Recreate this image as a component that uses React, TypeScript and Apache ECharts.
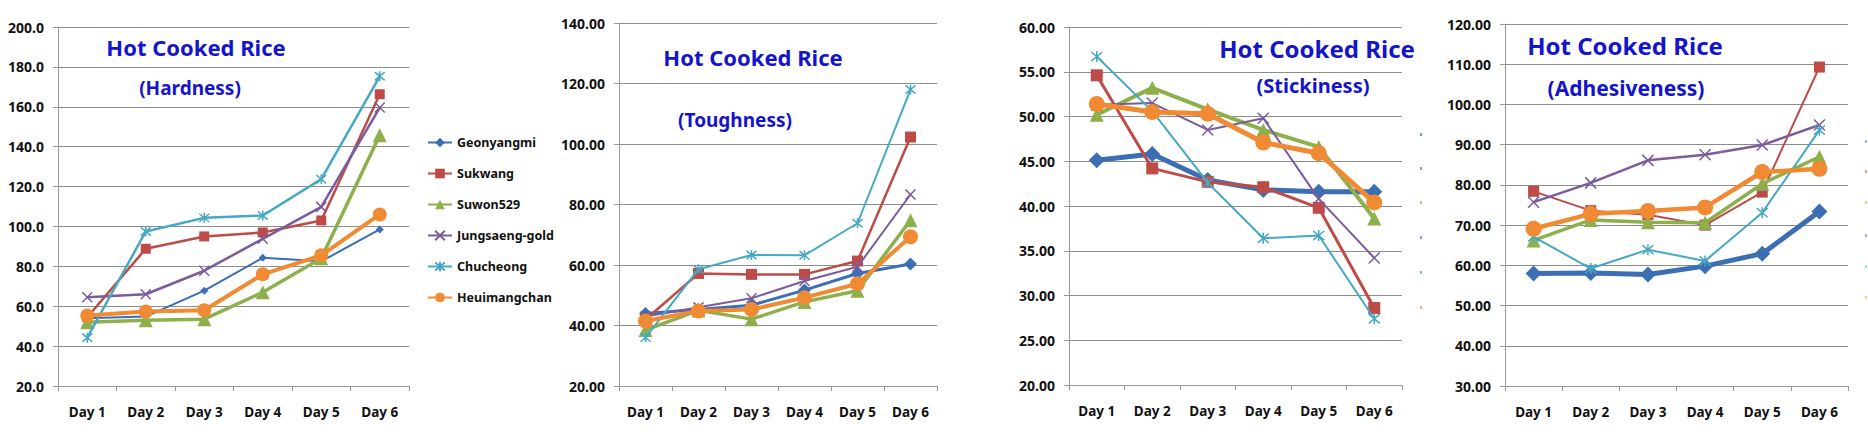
import React, { useEffect, useRef } from "react";
import * as echarts from "echarts";

const days = ["Day 1", "Day 2", "Day 3", "Day 4", "Day 5", "Day 6"];
const varieties = ["Geonyangmi", "Sukwang", "Suwon529", "Jungsaeng-gold", "Chucheong", "Heuimangchan"];

const hardGeon = [54.0, 54.8, 67.8, 84.3, 82.5, 98.5];
const hardSuk = [54.5, 88.8, 95.0, 97.0, 103.0, 166.3];
const hardSuwon = [52.0, 53.0, 53.5, 67.0, 84.0, 145.7];
const hardJung = [64.5, 66.0, 77.8, 93.8, 109.8, 159.6];
const hardChu = [44.2, 97.5, 104.3, 105.5, 123.7, 175.3];
const hardHeu = [55.3, 57.3, 58.0, 76.0, 85.5, 106.0];

const toughGeon = [44.0, 45.3, 46.7, 51.7, 57.2, 60.3];
const toughSuk = [42.0, 57.2, 56.9, 56.9, 61.3, 102.3];
const toughSuwon = [38.5, 45.0, 42.1, 47.8, 51.5, 74.8];
const toughJung = [43.0, 46.0, 49.0, 54.7, 59.4, 83.3];
const toughChu = [36.0, 58.6, 63.3, 63.2, 73.8, 118.0];
const toughHeu = [41.5, 44.8, 45.3, 49.2, 53.8, 69.3];

const stickGeon = [45.1, 45.8, 42.9, 41.8, 41.6, 41.6];
const stickSuk = [54.6, 44.2, 42.7, 42.1, 39.8, 28.6];
const stickSuwon = [50.2, 53.2, 50.8, 48.5, 46.6, 38.6];
const stickJung = [51.3, 51.5, 48.5, 49.8, 40.8, 34.2];
const stickChu = [56.7, 50.6, 42.6, 36.4, 36.7, 27.4];
const stickHeu = [51.4, 50.5, 50.3, 47.1, 45.9, 40.4];

const adhGeon = [58.0, 58.1, 57.7, 59.8, 62.9, 73.4];
const adhSuk = [78.4, 73.6, 72.6, 70.0, 78.2, 109.3];
const adhSuwon = [66.2, 71.3, 70.7, 70.6, 80.3, 87.0];
const adhJung = [75.7, 80.5, 86.1, 87.5, 89.9, 94.9];
const adhChu = [67.1, 59.2, 63.9, 61.1, 73.1, 93.6];
const adhHeu = [69.1, 72.8, 73.5, 74.4, 83.2, 84.0];

const panelData = [
  [hardGeon, hardSuk, hardSuwon, hardJung, hardChu, hardHeu],
  [toughGeon, toughSuk, toughSuwon, toughJung, toughChu, toughHeu],
  [stickGeon, stickSuk, stickSuwon, stickJung, stickChu, stickHeu],
  [adhGeon, adhSuk, adhSuwon, adhJung, adhChu, adhHeu],
];

const subtitles = ["(Hardness)", "(Toughness)", "(Stickiness)", "(Adhesiveness)"];
const yMins = [20, 20, 20, 30];
const yMaxs = [200, 140, 60, 120];
const yIntervals = [20, 20, 5, 10];
const yDecimals = [1, 2, 2, 2];

const colors = ["#3C6EB4", "#BE4B48", "#8DB04C", "#7A5C9C", "#46A8C2", "#F08A33"];
const crossPath = "path://M0,0L10,10M10,0L0,10";
const starPath = "path://M0,0L10,10M10,0L0,10M5,-1L5,11";
const symbols = ["diamond", "rect", "triangle", crossPath, starPath, "circle"];

// layout (pixels)
const grids = [
  { left: 58, top: 27, width: 351, height: 359 },
  { left: 619, top: 23, width: 318, height: 363 },
  { left: 1069, top: 27, width: 333, height: 358 },
  { left: 1505, top: 24, width: 343, height: 362 },
];
const lineWidths = [
  [2, 2.5, 3.5, 2.5, 2.5, 4],
  [3, 2.5, 3.5, 2, 2, 4],
  [5, 3, 4, 2, 2, 5],
  [5, 2, 3.5, 2.5, 2, 4.5],
];
const symbolSizes = [
  [8, 10, 14, 10, 10, 14],
  [13, 11, 14, 10, 10, 15],
  [16, 12, 14, 11, 11, 16],
  [16, 11, 14, 11, 11, 16],
];
const titlePos = [
  { x: 196, y: 47, sx: 190, sy: 88, size: 22, ssize: 19 },
  { x: 753, y: 57, sx: 735, sy: 120, size: 22, ssize: 19 },
  { x: 1317, y: 48, sx: 1313, sy: 85, size: 24, ssize: 20 },
  { x: 1625, y: 45, sx: 1626, sy: 88, size: 24, ssize: 21 },
];

export default function App() {
  const ref = useRef<HTMLDivElement>(null);
  useEffect(() => {
    document.body.style.margin = "0";
    const chart = echarts.init(ref.current!, null, { renderer: "svg" });
    const font = "'Noto Sans', 'Open Sans', sans-serif";
    const series: any[] = [];
    panelData.forEach((panel, p) => {
      panel.forEach((vals, i) => {
        const isStroke = i === 3 || i === 4;
        series.push({
          name: varieties[i],
          type: "line",
          xAxisIndex: p,
          yAxisIndex: p,
          data: vals,
          symbol: symbols[i],
          symbolSize: symbolSizes[p][i],
          showAllSymbol: true,
          lineStyle: { color: colors[i], width: lineWidths[p][i] },
          itemStyle: isStroke
            ? { color: "rgba(0,0,0,0)", borderColor: colors[i], borderWidth: 1.5 }
            : { color: colors[i], borderColor: colors[i], borderWidth: 0 },
          z: 2 + i,
        });
      });
    });

    const graphics: any[] = [];
    titlePos.forEach((t, p) => {
      graphics.push({
        type: "text",
        x: t.x,
        y: t.y,
        style: {
          text: "Hot Cooked Rice",
          fill: "#1414CC",
          font: `bold ${t.size}px ${font}`,
          textAlign: "center",
          textVerticalAlign: "middle",
        },
        z: 10,
      });
      graphics.push({
        type: "text",
        x: t.sx,
        y: t.sy,
        style: {
          text: subtitles[p],
          fill: "#1414CC",
          font: `bold ${t.ssize}px ${font}`,
          textAlign: "center",
          textVerticalAlign: "middle",
        },
        z: 10,
      });
    });
    // remnants of cropped legends at the panel edges
    const remnantYs3 = [135, 169, 203, 238, 273, 308];
    const remnantYs4 = [142, 172, 203, 236, 267, 298];
    remnantYs3.forEach((y, i) =>
      graphics.push({ type: "rect", shape: { x: 1420, y: y - 2, width: 2, height: 3 }, style: { fill: colors[i], opacity: 0.7 } })
    );
    remnantYs4.forEach((y, i) =>
      graphics.push({ type: "rect", shape: { x: 1865, y: y - 2, width: 2, height: 3 }, style: { fill: colors[i], opacity: 0.5 } })
    );

    chart.setOption({
      animation: false,
      backgroundColor: "#ffffff",
      grid: grids.map((g) => ({ ...g, containLabel: false })),
      legend: {
        orient: "vertical",
        left: 422,
        top: 131,
        itemWidth: 24,
        itemHeight: 12,
        itemGap: 18,
        data: varieties,
        textStyle: { fontFamily: font, fontWeight: "bold", fontSize: 12.5, color: "#111" },
      },
      xAxis: grids.map((_, p) => ({
        type: "category",
        gridIndex: p,
        data: days,
        boundaryGap: true,
        axisLine: { lineStyle: { color: "#999", width: 1 } },
        axisTick: { show: true, length: 5, lineStyle: { color: "#999" } },
        axisLabel: { fontFamily: font, fontWeight: "bold", fontSize: 13.5, color: "#111", margin: 19, interval: 0 },
        splitLine: { show: false },
      })),
      yAxis: grids.map((_, p) => ({
        type: "value",
        gridIndex: p,
        min: yMins[p],
        max: yMaxs[p],
        interval: yIntervals[p],
        axisLine: { show: true, lineStyle: { color: "#999", width: 1 } },
        axisTick: { show: true, length: 5, lineStyle: { color: "#999" } },
        axisLabel: {
          fontFamily: font,
          fontWeight: "bold",
          fontSize: 14,
          color: "#111",
          margin: 14,
          formatter: (v: number) => v.toFixed(yDecimals[p]),
        },
        splitLine: { show: true, lineStyle: { color: "#8c8c8c", width: 1 } },
      })),
      series,
      graphic: graphics,
    });
    return () => chart.dispose();
  }, []);
  return <div ref={ref} style={{ position: "absolute", left: 0, top: 0, width: 1868, height: 443 }} />;
}
